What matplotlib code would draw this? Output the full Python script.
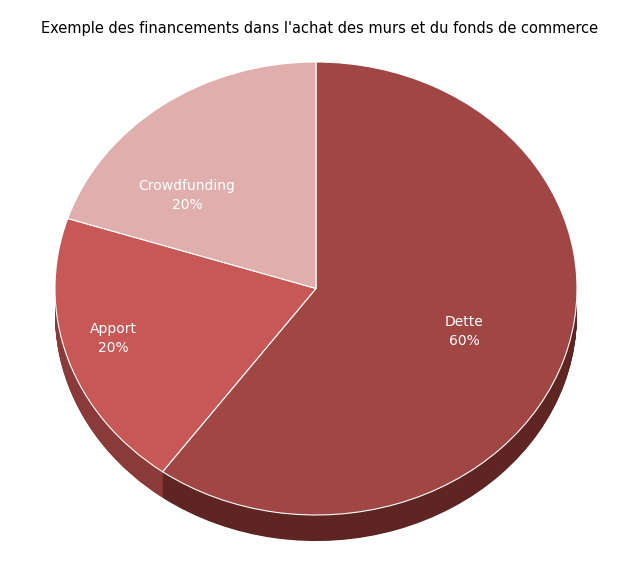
import matplotlib.pyplot as plt
import numpy as np

labels = ['Dette', 'Apport', 'Crowdfunding']
values = [60, 20, 20]
top_colors = ['#A04644', '#C85856', '#DFAEAD']
side_colors = ['#5E2523', '#8A3A38', '#A07A7A']
# label anchor positions (unit-circle coords)
label_pos = [(0.567, -0.19), (-0.778, -0.22), (-0.494, 0.41)]

fig = plt.figure(figsize=(6.4, 5.74), dpi=100)
ax = fig.add_axes([0, 0, 1, 1])

# side of the 3D pie: stacked copies shifted downwards
depth = 0.115
for d in np.linspace(depth, 0.005, 40):
    ax.pie(values, colors=side_colors, startangle=90, counterclock=False,
           center=(0, -d), wedgeprops=dict(edgecolor='none'))

ax.pie(values, colors=top_colors, startangle=90, counterclock=False,
       wedgeprops=dict(edgecolor='white', linewidth=0.8))

for lab, v, (x, y) in zip(labels, values, label_pos):
    ax.text(x, y, f'{lab}\n{v}%', color='white', fontsize=10,
            ha='center', va='center', linespacing=1.5)

ax.set_aspect('auto')
ax.set_xlim(-1.2107, 1.2414)
ax.set_ylim(-1.2605, 1.2737)
ax.axis('off')

fig.text(0.5, 1 - 28 / 574, "Exemple des financements dans l'achat des murs et du fonds de commerce",
         ha='center', va='center', fontsize=10.5)

fig.savefig('out.png', dpi=100, facecolor='white')
